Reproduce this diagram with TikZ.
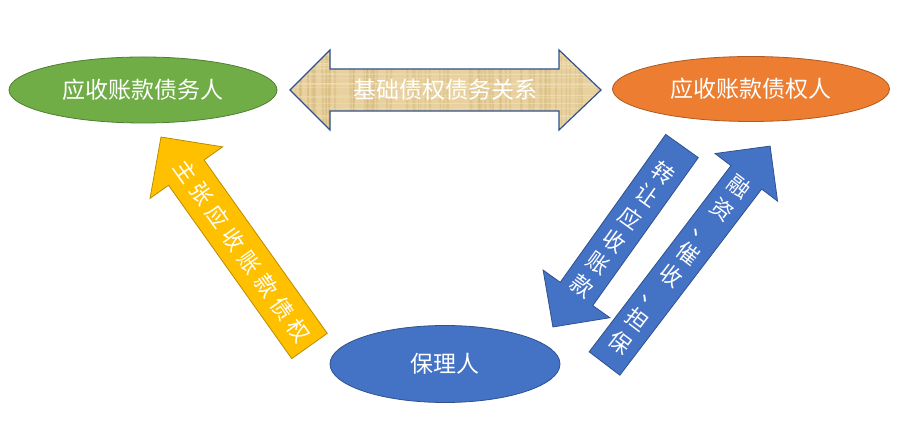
\documentclass[tikz,border=0pt]{standalone}
\usepackage{fontspec}
\newfontfamily\cjk{Noto Sans CJK SC}
\usetikzlibrary{calc,shapes.geometric}
\definecolor{gfill}{HTML}{70AD47}
\definecolor{gline}{HTML}{507E32}
\definecolor{ofill}{HTML}{ED7D31}
\definecolor{oline}{HTML}{AE5A21}
\definecolor{bfill}{HTML}{4472C4}
\definecolor{bline}{HTML}{2F528F}
\definecolor{yfill}{HTML}{FFC000}
\definecolor{yline}{HTML}{BC8C00}
\definecolor{pfill}{HTML}{E8D19E}
\definecolor{pdark}{HTML}{CDAE6E}
\definecolor{plight}{HTML}{F4E6C4}
% #1 style, #2 tail x, #3 tail y, #4 angle, #5 length, #6 shaft half width, #7 head half width, #8 head length
\newcommand\blockarrow[8]{%
  \begin{scope}[shift={(#2,#3)},rotate=#4]
    \draw[#1] (0,-#6) -- ({#5-#8},-#6) -- ({#5-#8},-#7) -- (#5,0)
      -- ({#5-#8},#7) -- ({#5-#8},#6) -- (0,#6) -- cycle;
  \end{scope}}
\newcommand\gp{\kern6pt }
\begin{document}
\begin{tikzpicture}[x=1pt,y=1pt,
  party/.style={ellipse, inner sep=0pt, line width=0.8pt, text=white,
    font=\cjk\fontsize{23}{23}\selectfont},
  wtxt/.style={text=white, font=\cjk\fontsize{23}{23}\selectfont, inner sep=0pt},
  atxt/.style={text=white, font=\cjk\fontsize{22}{22}\selectfont, inner sep=0pt},
  stack/.style={text=white, font=\cjk\fontsize{22}{27.9}\selectfont, inner sep=0pt, align=center}]
\useasboundingbox (0,0) rectangle (904,422);
\fill[white] (0,0) rectangle (904,422);

% parties
\node[party, draw=gline, fill=gfill, minimum width=268, minimum height=66] (debtor) at (143,332) {应收账款债务人};
\node[party, draw=oline, fill=ofill, minimum width=277, minimum height=65] (creditor) at (751,333) {应收账款债权人};
\node[party, draw=bline, fill=bfill, minimum width=230, minimum height=77] (factor) at (445,58) {保理人};

% middle double arrow
\def\midpath{(290,332) -- (330,372) -- (330,353) -- (559,353) -- (559,372) -- (601,332)
  -- (559,292) -- (559,311) -- (330,311) -- (330,292) -- cycle}
\fill[pfill] \midpath;
\begin{scope}
  \clip \midpath;
  \pgfmathsetseed{7}
  \foreach \k in {1,...,70} {
    \pgfmathsetmacro\xx{290+311*rnd}
    \pgfmathsetmacro\ww{0.6+2*rnd}
    \draw[pdark, opacity=0.35, line width=\ww] (\xx,290) -- (\xx+3*rnd-1.5,375);
  }
  \foreach \k in {1,...,30} {
    \pgfmathsetmacro\yy{290+85*rnd}
    \draw[plight, opacity=0.5, line width=0.8] (290,\yy) -- (601,\yy+2*rnd-1);
  }
\end{scope}
\draw[bline, line width=1.2pt, line join=miter] \midpath;
\node[wtxt] (base) at (445.5,332) {基础债权债务关系};

% left yellow arrow
\blockarrow{draw=yline, fill=yfill, line width=0.8pt}{309.5}{76}{125.4}{256.4}{21.8}{44.5}{43.7}
\coordinate (ytail) at (309.5,76);
\coordinate (ytip) at (161,285);
\node[atxt, rotate=-54.6] (claim) at ($(ytip)!140pt!(ytail)$)
  {主\gp 张\gp 应\gp 收\gp 账\gp 款\gp 债\gp 权};

% right blue down arrow
\blockarrow{draw=bline, fill=bfill, line width=0.8pt}{682}{276}{-125.5}{222.3}{20}{41}{40.6}
\coordinate (dtail) at (682,276);
\coordinate (dtip) at (553,95);
\node[stack, rotate=-35.5] (transfer) at ($(dtail)!102.5pt!(dtip)$)
  {转\\让\\应\\收\\账\\款};

% right blue up arrow
\blockarrow{draw=bline, fill=bfill, line width=0.8pt}{604.5}{58.5}{52.7}{273.3}{19.3}{39.3}{39.3}
\coordinate (utail) at (604.5,58.5);
\coordinate (utip) at (770,276);
\node[stack, rotate=-37.3] (finance) at ($(utip)!149pt!(utail)$)
  {融\\资\\、\\催\\收\\、\\担\\保};
\end{tikzpicture}
\end{document}
